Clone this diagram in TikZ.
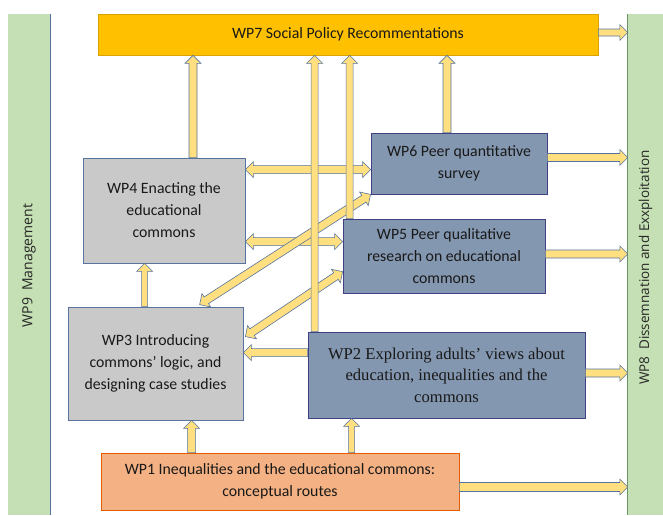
\documentclass[tikz,border=0pt]{standalone}
\usepackage{fontspec}
\setmainfont{Carlito}
\newfontfamily\serifwp{Liberation Serif}
\newfontfamily\sidewp{Open Sans}
\usetikzlibrary{calc}

\definecolor{wpgold}{HTML}{FFC000}
\definecolor{wpgrey}{HTML}{C9C9C9}
\definecolor{wpslate}{HTML}{8497B0}
\definecolor{wpsalmon}{HTML}{F4B183}
\definecolor{wpgreen}{HTML}{C5E0B4}
\definecolor{arrfill}{HTML}{FFDF80}
\definecolor{arredge}{HTML}{56749E}

% block arrow with one head: [shaft half width]{from}{to}
\newcommand{\wparrow}[3][4pt]{%
  \coordinate (ba-s) at (#2);
  \coordinate (ba-e) at (#3);
  \coordinate (ba-c) at ($(ba-e)!8pt!(ba-s)$);
  \filldraw[wparr] ($(ba-s)!#1!90:(ba-e)$) -- ($(ba-c)!#1!90:(ba-e)$)
    -- ($(ba-c)!8pt!90:(ba-e)$) -- (ba-e) -- ($(ba-c)!8pt!-90:(ba-e)$)
    -- ($(ba-c)!#1!-90:(ba-e)$) -- ($(ba-s)!#1!-90:(ba-e)$) -- cycle;
}
% block arrow with two heads
\newcommand{\wpdarrow}[3][4pt]{%
  \coordinate (ba-s) at (#2);
  \coordinate (ba-e) at (#3);
  \coordinate (ba-a) at ($(ba-s)!8pt!(ba-e)$);
  \coordinate (ba-c) at ($(ba-e)!8pt!(ba-s)$);
  \filldraw[wparr] (ba-s) -- ($(ba-a)!8pt!90:(ba-e)$) -- ($(ba-a)!#1!90:(ba-e)$)
    -- ($(ba-c)!#1!90:(ba-e)$) -- ($(ba-c)!8pt!90:(ba-e)$) -- (ba-e)
    -- ($(ba-c)!8pt!-90:(ba-e)$) -- ($(ba-c)!#1!-90:(ba-e)$)
    -- ($(ba-a)!#1!-90:(ba-e)$) -- ($(ba-a)!8pt!-90:(ba-e)$) -- cycle;
}

\tikzset{
  wpbox/.style={draw, line width=0.8pt, inner sep=2pt, align=center,
    text=black!90, font=\fontsize{15.8}{22}\selectfont},
  wparr/.style={fill=arrfill, draw=arredge, line width=0.6pt, line join=miter},
  sidebar/.style={fill=wpgreen, minimum width=#1, minimum height=501pt, inner sep=0pt},
  sidetext/.style={rotate=90, text=black!85, font=\sidewp\fontsize{13.5}{15}\selectfont}
}

\begin{document}
\begin{tikzpicture}[x=1pt, y=-1pt]
  \useasboundingbox (0,0) rectangle (663,515);

  % Management and dissemination bars
  \node[sidebar=42pt] (wp9) at (29,264.5) {};
  \draw[arredge, line width=0.8pt] (wp9.north east) -- (wp9.south east);
  \node[sidetext, font=\sidewp\fontsize{14}{16}\selectfont] (wp9text) at ($(wp9.center)+(0,1)$) {WP9\enspace Management};
  \node[sidebar=35pt] (wp8) at (645.5,264.5) {};
  \draw[green!30!black!60, line width=0.8pt] (wp8.north west) -- (wp8.south west);
  \node[sidetext] (wp8text) at ($(wp8.center)+(0,3)$) {WP8\enspace Dissemnation and Exxploitation};

  % Work packages
  \node[wpbox, fill=wpgold, draw=wpgold!85!black, minimum width=500pt, minimum height=41pt]
    (wp7) at (348,34.5) {WP7 Social Policy Recommentations};
  \node[wpbox, fill=wpslate, draw=blue!35!black!75, minimum width=176pt, minimum height=61pt]
    (wp6) at (459,163.5) {WP6 Peer quantitative\\survey};
  \node[wpbox, fill=wpslate, draw=blue!35!black!75, minimum width=202pt, minimum height=74pt]
    (wp5) at (444,256) {WP5 Peer qualitative\\research on educational\\commons};
  \node[wpbox, fill=wpgrey, draw=arredge, minimum width=162pt, minimum height=105pt]
    (wp4) at (164,210.5) {WP4 Enacting the\\educational\\commons};
  \node[wpbox, fill=wpgrey, draw=arredge, minimum width=175pt, minimum height=113pt]
    (wp3) at (155.5,363.5) {WP3 Introducing\\commons’ logic, and\\designing case studies};
  \node[wpbox, fill=wpslate, draw=blue!35!black!75, minimum width=277pt, minimum height=86pt,
    font=\serifwp\fontsize{16.6}{21.5}\selectfont]
    (wp2) at (446.5,375) {WP2 Exploring adults’ views about\\education, inequalities and the\\commons};
  \node[wpbox, fill=wpsalmon, draw=orange!80!red!90!black, minimum width=358pt, minimum height=57pt]
    (wp1) at (280,481.5) {WP1 Inequalities and the educational commons:\\conceptual routes};

  % Links between WP4, WP5, WP6
  \wpdarrow{$(wp4.north east)+(0,12)$}{ba-s -| wp6.west}
  \wpdarrow{$(wp4.north east)+(0,84)$}{ba-s -| wp5.west}

  % Links to WP3
  \wpdarrow{$(wp3.north west)+(132,-2)$}{wp6.south west}
  \wpdarrow{$(wp3.north east)+(2,30)$}{$(wp5.north west)+(0,53)$}
  \wparrow{$(wp2.north west)+(0,21)$}{ba-s -| wp3.east}
  \wparrow[3pt]{$(wp3.north west)+(77,0)$}{wp4.south -| ba-s}

  % From WP1
  \wparrow{$(wp1.north west)+(91,0)$}{wp3.south -| ba-s}
  \wparrow[3pt]{$(wp1.north west)+(251,0)$}{wp2.south -| ba-s}

  % Up to WP7
  \wparrow{$(wp4.north)+(29,0)$}{wp7.south -| ba-s}
  \wparrow[3.5pt]{$(wp2.north west)+(7,0)$}{wp7.south -| ba-s}
  \wparrow[3.5pt]{$(wp5.north west)+(7,0)$}{wp7.south -| ba-s}
  \wparrow{$(wp6.north)+(-12,0)$}{wp7.south -| ba-s}

  % Out to WP8
  \wparrow[3.5pt]{$(wp7.east)+(0,-2)$}{ba-s -| wp8.west}
  \wparrow{$(wp6.east)+(0,-6)$}{ba-s -| wp8.west}
  \wparrow{$(wp5.east)+(0,-2)$}{ba-s -| wp8.west}
  \wparrow{$(wp2.east)+(0,-2)$}{ba-s -| wp8.west}
  \wparrow[4.5pt]{$(wp1.east)+(0,5.5)$}{ba-s -| wp8.west}
\end{tikzpicture}
\end{document}
